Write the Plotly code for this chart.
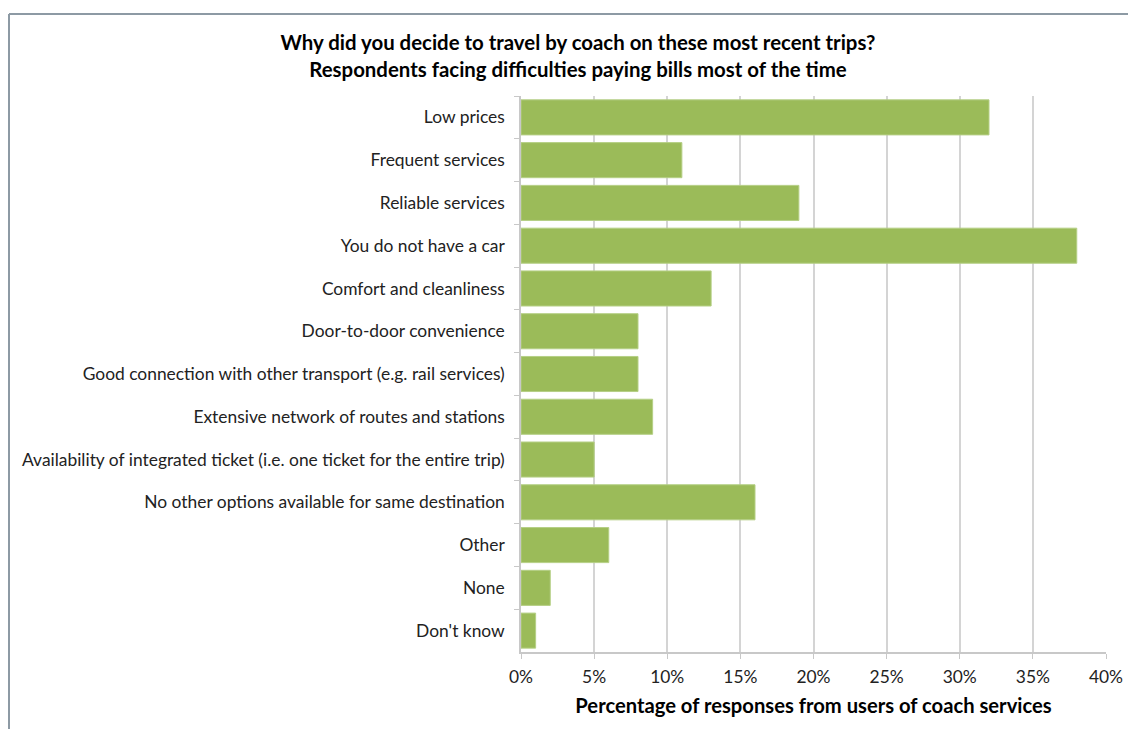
import plotly.graph_objects as go

categories = [
    "Low prices",
    "Frequent services",
    "Reliable services",
    "You do not have a car",
    "Comfort and cleanliness",
    "Door-to-door convenience",
    "Good connection with other transport (e.g. rail services)",
    "Extensive network of routes and stations",
    "Availability of integrated ticket (i.e. one ticket for the entire trip)",
    "No other options available for same destination",
    "Other",
    "None",
    "Don't know",
]
share = [0.32, 0.11, 0.19, 0.38, 0.13, 0.08, 0.08, 0.09, 0.05, 0.16, 0.06, 0.02, 0.01]
x_ticks = [0, 0.05, 0.10, 0.15, 0.20, 0.25, 0.30, 0.35, 0.40]
x_tick_labels = ["0%", "5%", "10%", "15%", "20%", "25%", "30%", "35%", "40%"]

W, H = 1128, 729
L, R, T, B = 521, 22, 96, 77
pw, ph = W - L - R, H - T - B

FONT = "Lato, 'Open Sans', sans-serif"

fig = go.Figure(
    go.Bar(
        x=share,
        y=categories,
        orientation="h",
        marker=dict(color="#9bbb59", line=dict(color="#b5cf85", width=1)),
        hoverinfo="x+y",
    )
)

# frame lines at the top and left of the chart area
bx = (9 - L) / pw
by = 1 + (T - 14) / ph
fig.add_shape(type="line", xref="paper", yref="paper", x0=bx, x1=(W - L) / pw + 0.01,
              y0=by, y1=by, line=dict(color="#8d9aa4", width=2))
fig.add_shape(type="line", xref="paper", yref="paper", x0=bx, x1=bx,
              y0=by, y1=-(B + 5) / ph, line=dict(color="#8d9aa4", width=2))

fig.update_layout(
    width=W,
    height=H,
    margin=dict(l=L, r=R, t=T, b=B, autoexpand=False),
    paper_bgcolor="white",
    plot_bgcolor="white",
    bargap=0.18,
    showlegend=False,
    font=dict(family=FONT, size=17.4, color="#000000"),
    title=dict(
        text="Why did you decide to travel by coach on these most recent trips?<br>"
             "Respondents facing difficulties paying bills most of the time",
        x=578 / W,
        xanchor="center",
        xref="container",
        y=1 - 50 / H,
        yanchor="top",
        yref="container",
        font=dict(family=FONT, size=20.4, color="#000000", weight="bold"),
    ),
    xaxis=dict(
        range=[0, 0.40],
        tickvals=x_ticks,
        ticktext=x_tick_labels,
        automargin=False,
        showgrid=True,
        gridcolor="#d4d4d4",
        gridwidth=1.5,
        zeroline=False,
        showline=True,
        linecolor="#c8c8c8",
        linewidth=1.5,
        ticks="outside",
        ticklen=5,
        tickcolor="#c8c8c8",
        ticklabelstandoff=3,
        tickfont=dict(size=17.4, color="#222222"),
        title=dict(
            text="Percentage of responses from users of coach services",
            font=dict(size=20.2, weight="bold", color="#000000"),
            standoff=13,
        ),
        fixedrange=True,
    ),
    yaxis=dict(
        categoryorder="array",
        categoryarray=categories,
        autorange="reversed",
        automargin=False,
        showgrid=False,
        showline=True,
        linecolor="#c8c8c8",
        linewidth=1.5,
        ticks="outside",
        tickson="boundaries",
        ticklen=5,
        tickcolor="#c8c8c8",
        ticklabelstandoff=11,
        tickfont=dict(size=17.4, color="#222222"),
        fixedrange=True,
    ),
)

fig.write_html("out.html")
